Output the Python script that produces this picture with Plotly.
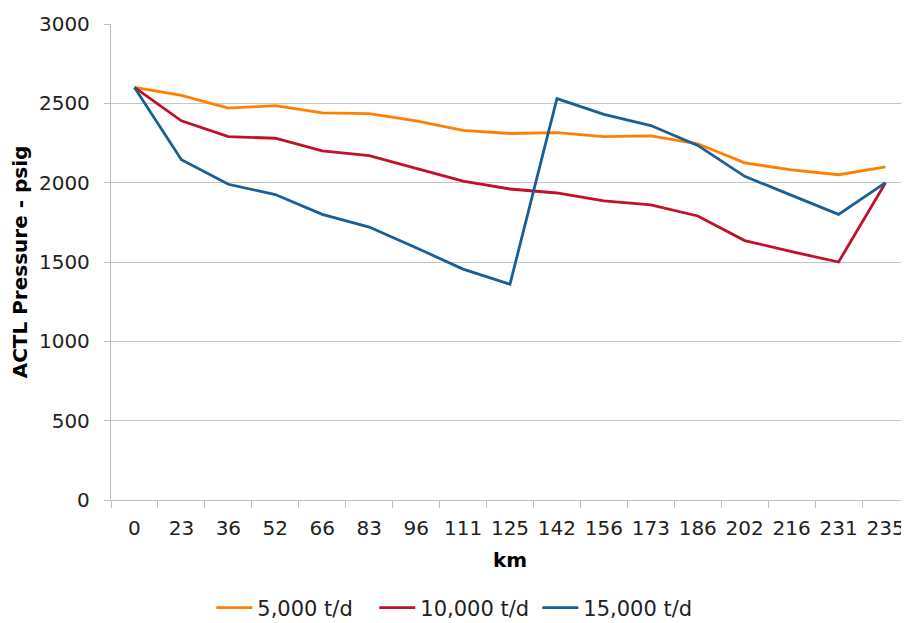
import plotly.graph_objects as go

km = ["0", "23", "36", "52", "66", "83", "96", "111", "125", "142", "156",
      "173", "186", "202", "216", "231", "235"]
p_5000 = [2600, 2550, 2470, 2485, 2440, 2435, 2390, 2330, 2310, 2315, 2290,
          2295, 2245, 2125, 2080, 2050, 2100]
p_10000 = [2600, 2390, 2290, 2280, 2200, 2170, 2090, 2010, 1960, 1935, 1885,
           1860, 1790, 1635, 1565, 1500, 2000]
p_15000 = [2600, 2145, 1990, 1925, 1800, 1720, 1590, 1455, 1360, 2530, 2430,
           2360, 2235, 2040, 1920, 1800, 2000]
series_names = ["5,000 t/d", "10,000 t/d", "15,000 t/d"]
colors = ["#FF8000", "#C0102A", "#1A5E96"]

FONT = "DejaVu Sans, Verdana, sans-serif"
FS = 20

fig = go.Figure()
for name, vals, c in zip(series_names, [p_5000, p_10000, p_15000], colors):
    fig.add_trace(go.Scatter(x=km, y=vals, mode="lines", name=name,
                             line=dict(color=c, width=2.8)))

fig.update_layout(
    width=901, height=615,
    margin=dict(l=103, r=0, t=16, b=123),
    paper_bgcolor="white", plot_bgcolor="white",
    font=dict(family=FONT, size=FS, color="#222222"),
    showlegend=True,
    legend=dict(orientation="h", x=0.497, xref="container", xanchor="center",
                y=0.0244, yref="container", yanchor="middle",
                font=dict(size=21, color="#222222"), itemwidth=36,
                entrywidth=112, entrywidthmode="pixels",
                traceorder="normal"),
    xaxis=dict(type="category", range=[-0.5, 16.5], showgrid=False,
               showline=True, linecolor="#BEBEBE", linewidth=1.3,
               ticks="outside", tickson="boundaries", ticklen=7,
               tickcolor="#BEBEBE", tickfont=dict(size=FS), tickangle=0,
               ticklabelstandoff=10, automargin=False,
               title=dict(text="<b>km</b>", font=dict(size=FS, color="#000000"),
                          standoff=13)),
    yaxis=dict(range=[0, 3000], dtick=500, showgrid=True,
               gridcolor="#C4C4C4", gridwidth=1.3, zeroline=False,
               showline=True, linecolor="#BEBEBE", linewidth=1.3,
               ticks="outside", ticklen=6, tickcolor="#BEBEBE",
               tickfont=dict(size=FS), ticklabelstandoff=10,
               title=dict(text="<b>ACTL Pressure - psig</b>",
                          font=dict(size=FS, color="#000000"), standoff=9)),
)

fig.write_html("out.html")
